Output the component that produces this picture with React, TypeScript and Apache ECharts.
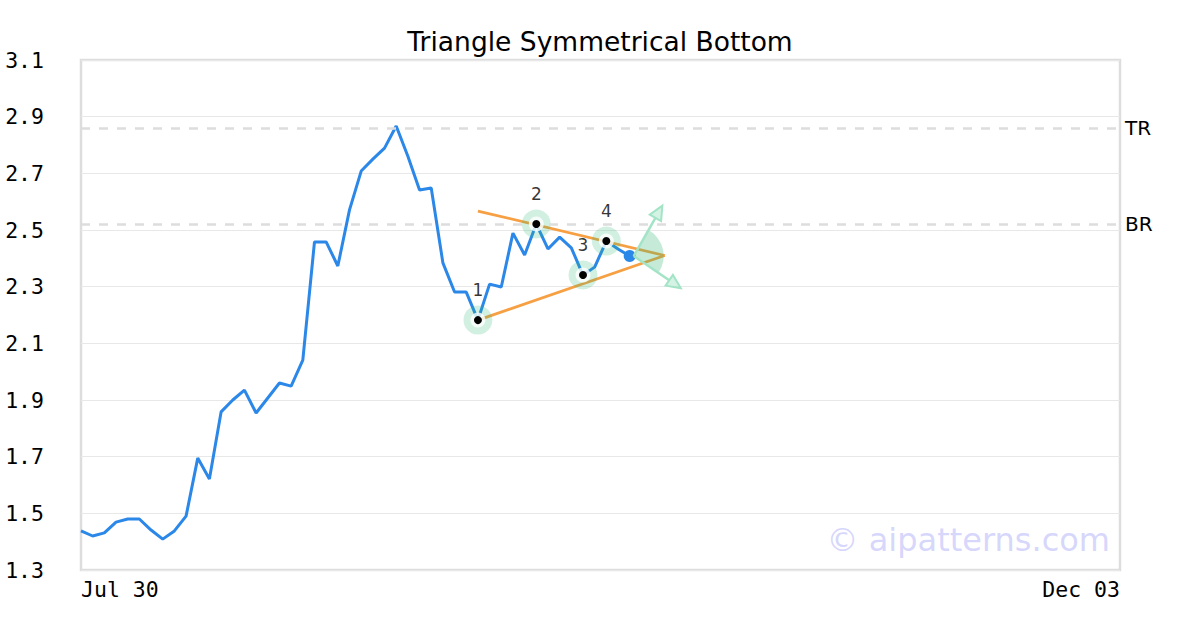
import React, { useEffect, useRef } from "react";
import * as echarts from "echarts";

const TITLE = "Triangle Symmetrical Bottom";
const X_LABELS = ["Jul 30", "Dec 03"];
const X_MAX = 89;
const Y_MIN = 1.3;
const Y_MAX = 3.1;
const Y_STEP = 0.2;

const prices = [
  1.438, 1.42, 1.431, 1.469, 1.48, 1.48, 1.441, 1.409, 1.438, 1.49,
  1.695, 1.621, 1.858, 1.9, 1.935, 1.854, 1.907, 1.96, 1.949, 2.041,
  2.458, 2.458, 2.373, 2.571, 2.708, 2.75, 2.789, 2.867, 2.76, 2.641,
  2.648, 2.384, 2.281, 2.281, 2.182, 2.309, 2.299, 2.489, 2.412, 2.521,
  2.433, 2.475, 2.437, 2.341, 2.369, 2.461, 2.433, 2.408,
];

const levelNames = ["TR", "BR"];
const levelValues = [2.86, 2.52];

const pivotNames = ["1", "2", "3", "4"];
const pivotIdx = [34, 39, 43, 45];
const pivotVals = [2.182, 2.521, 2.341, 2.461];

const upperLine = [
  [34, 2.567],
  [50, 2.41],
];
const lowerLine = [
  [34, 2.182],
  [50, 2.41],
];

const WATERMARK = "© aipatterns.com";

export default function App() {
  const ref = useRef<HTMLDivElement>(null);
  useEffect(() => {
    if (!ref.current) return;
    const chart = echarts.init(ref.current, null, { renderer: "svg" });
    const lineData = prices.map((v, i) => [i, v]);
    const pivots = pivotIdx.map((x, i) => ({ value: [x, pivotVals[i]], name: pivotNames[i] }));
    const lastIdx = prices.length - 1;
    const mono = "DejaVu Sans Mono";
    const sans = "DejaVu Sans";

    chart.setOption({
      animation: false,
      backgroundColor: "#fff",
      title: {
        text: TITLE,
        left: "center",
        top: 23,
        textStyle: { fontFamily: sans, fontSize: 26.5, fontWeight: "normal", color: "#000" },
      },
      grid: {
        left: 81,
        right: 80,
        top: 60,
        bottom: 60,
        show: true,
        borderColor: "#dddddd",
        borderWidth: 2.5,
        backgroundColor: "transparent",
      },
      xAxis: {
        type: "value",
        min: 0,
        max: X_MAX,
        interval: X_MAX,
        splitLine: { show: false },
        axisLine: { show: false },
        axisTick: { show: false },
        axisLabel: {
          margin: 8,
          fontFamily: mono,
          fontSize: 21.5,
          color: "#000",
          alignMinLabel: "left",
          alignMaxLabel: "right",
          formatter: (v: number) => (v === 0 ? X_LABELS[0] : X_LABELS[1]),
        },
      },
      yAxis: {
        type: "value",
        min: Y_MIN,
        max: Y_MAX,
        interval: Y_STEP,
        axisLine: { show: false },
        axisTick: { show: false },
        splitLine: { lineStyle: { color: "#e8e8e8", width: 1.2 } },
        axisLabel: {
          margin: 37,
          fontFamily: mono,
          fontSize: 21.5,
          color: "#000",
          formatter: (v: number) => v.toFixed(1),
        },
      },
      series: [
        {
          type: "line",
          data: lineData,
          symbol: "none",
          z: 2,
          lineStyle: { color: "#2b87e8", width: 3 },
          markLine: {
            silent: true,
            symbol: ["none", "none"],
            lineStyle: { color: "#dddddd", width: 2.5, type: [9, 9] },
            label: {
              show: true,
              position: "end",
              distance: 5,
              formatter: "{b}",
              fontFamily: sans,
              fontSize: 20,
              color: "#000",
            },
            data: levelNames.map((n, i) => ({ name: n, yAxis: levelValues[i] })),
          },
        },
        {
          type: "line",
          data: upperLine,
          symbol: "none",
          z: 3,
          lineStyle: { color: "#f7a043", width: 2.8 },
        },
        {
          type: "line",
          data: lowerLine,
          symbol: "none",
          z: 3,
          lineStyle: { color: "#f7a043", width: 2.8 },
        },
        {
          type: "scatter",
          data: pivots,
          symbolSize: 29,
          z: 4,
          itemStyle: { color: "rgba(46,184,114,0.27)" },
          label: {
            show: true,
            position: "top",
            distance: 7,
            formatter: "{b}",
            fontFamily: sans,
            fontSize: 17,
            color: "#000",
          },
        },
        {
          type: "scatter",
          data: pivots,
          symbolSize: 15,
          z: 5,
          itemStyle: { color: "#ffffff" },
        },
        {
          type: "scatter",
          data: pivots,
          symbolSize: 8,
          z: 6,
          itemStyle: { color: "#000000", opacity: 1 },
        },
        {
          type: "scatter",
          data: [[lastIdx, prices[lastIdx]]],
          symbolSize: 12,
          z: 7,
          itemStyle: { color: "#2b87e8", opacity: 1 },
        },
      ],
    });

    const c = chart.convertToPixel({ gridIndex: 0 }, [lastIdx, prices[lastIdx]]) as number[];
    const cx = c[0] + 4;
    const cy = c[1];
    const arrowColor = "#a3e4c6";
    const mkArrow = (ang: number, len: number) => {
      const ux = Math.cos(ang);
      const uy = Math.sin(ang);
      const tipX = cx + ux * len;
      const tipY = cy + uy * len;
      const hl = 14;
      const hw = 6.5;
      const bx = tipX - ux * hl;
      const by = tipY - uy * hl;
      return [
        {
          type: "line",
          shape: { x1: cx, y1: cy, x2: bx, y2: by },
          style: { stroke: arrowColor, lineWidth: 2.5 },
          z: 10,
        },
        {
          type: "polygon",
          shape: {
            points: [
              [tipX, tipY],
              [bx - uy * hw, by + ux * hw],
              [bx + uy * hw, by - ux * hw],
            ],
          },
          style: { fill: "rgba(160,228,198,0.45)", stroke: arrowColor, lineWidth: 2 },
          z: 10,
        },
      ];
    };
    const upAng = Math.atan2(-51, 29);
    const downAng = Math.atan2(32, 47);
    chart.setOption({
      graphic: [
        {
          type: "sector",
          shape: { cx, cy, r: 30, r0: 0, startAngle: upAng, endAngle: downAng, clockwise: true },
          style: { fill: "rgba(46,184,114,0.28)" },
          z: 9,
        },
        ...mkArrow(upAng, 58),
        ...mkArrow(downAng, 57),
        {
          type: "text",
          right: 90,
          top: 524,
          style: {
            text: WATERMARK,
            font: "32px 'DejaVu Sans'",
            fill: "rgba(180,180,250,0.55)",
          },
          z: 1,
        },
      ],
    });

    return () => chart.dispose();
  }, []);

  return (
    <div
      ref={ref}
      style={{ position: "fixed", left: 0, top: 0, width: 1200, height: 630, background: "#fff" }}
    />
  );
}
